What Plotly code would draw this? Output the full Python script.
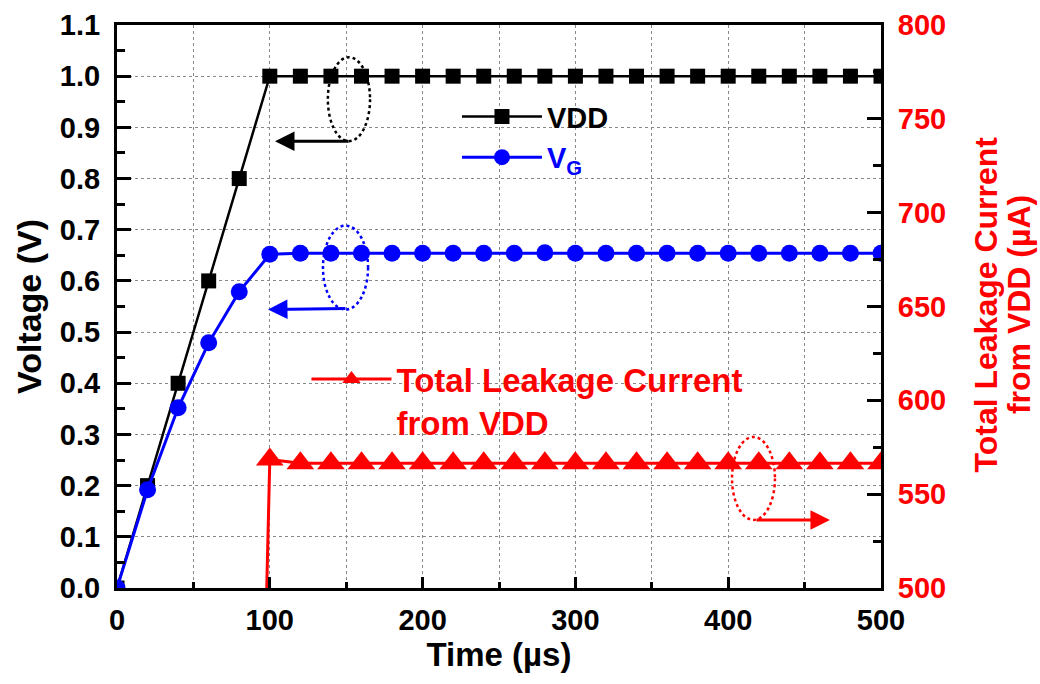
import plotly.graph_objects as go

# ---- data ----
time_us = [0, 20, 40, 60, 80, 100, 120, 140, 160, 180, 200, 220, 240, 260, 280,
           300, 320, 340, 360, 380, 400, 420, 440, 460, 480, 500]
vdd = [0.0, 0.2, 0.4, 0.6, 0.8, 1.0, 1.0, 1.0, 1.0, 1.0, 1.0, 1.0, 1.0, 1.0, 1.0,
       1.0, 1.0, 1.0, 1.0, 1.0, 1.0, 1.0, 1.0, 1.0, 1.0, 1.0]
vg = [0.0, 0.192, 0.352, 0.479, 0.579, 0.652, 0.654, 0.654, 0.654, 0.654, 0.654,
      0.654, 0.654, 0.654, 0.655, 0.654, 0.654, 0.654, 0.654, 0.654, 0.654, 0.654,
      0.654, 0.654, 0.654, 0.654]
time_i = [98, 100, 120, 140, 160, 180, 200, 220, 240, 260, 280, 300, 320, 340, 360,
          380, 400, 420, 440, 460, 480, 500]
leak_ua = [500, 568.5, 566.5, 566.5, 566.5, 566.5, 566.5, 566.5, 566.5, 566.5, 566.5,
           566.5, 566.5, 566.5, 566.5, 566.5, 566.5, 566.5, 566.5, 566.5, 566.5, 566.5]

FONT = "Liberation Sans, Arial, sans-serif"
RED = "#ff0000"
BLUE = "#0000ff"
TICK_SIZE = 29
TITLE_SIZE = 33
LEG_SIZE = 29

fig = go.Figure()

# switch-on ramp of the leakage current (line only)
fig.add_trace(go.Scatter(
    x=time_i[:2], y=leak_ua[:2], yaxis="y2", mode="lines", showlegend=False,
    line=dict(color=RED, width=3), hoverinfo="skip",
))
fig.add_trace(go.Scatter(
    x=time_i[1:], y=leak_ua[1:], yaxis="y2", mode="lines+markers",
    name="Total Leakage Current<br>from VDD", legend="legend3",
    line=dict(color=RED, width=3),
    marker=dict(symbol="triangle-up", color=RED, size=24, opacity=1,
                line=dict(width=0)),
))
fig.add_trace(go.Scatter(
    x=time_us, y=vdd, mode="lines+markers", name="VDD", legend="legend",
    line=dict(color="black", width=2.5),
    marker=dict(symbol="square", color="black", size=15),
))
fig.add_trace(go.Scatter(
    x=time_us, y=vg, mode="lines+markers", name="V<sub>G</sub>", legend="legend2",
    line=dict(color=BLUE, width=3),
    marker=dict(symbol="circle", color=BLUE, size=17),
))

# dotted ellipses
fig.add_shape(type="circle", xref="x", yref="y", x0=138, x1=165.6, y0=0.873, y1=1.037,
              line=dict(color="black", width=2.5, dash="dot"))
fig.add_shape(type="circle", xref="x", yref="y", x0=134.8, x1=164.3, y0=0.544, y1=0.708,
              line=dict(color=BLUE, width=2.5, dash="dot"))
fig.add_shape(type="circle", xref="x", yref="y2", x0=402.5, x1=430.6, y0=536.3, y1=580.5,
              line=dict(color=RED, width=2.5, dash="dot"))

# arrows
fig.add_annotation(x=103.4, y=0.873, ax=152.5, ay=0.873, xref="x", yref="y",
                   axref="x", ayref="y", text="", showarrow=True, arrowhead=2,
                   arrowsize=1.3, arrowwidth=3, arrowcolor="black")
fig.add_annotation(x=98.8, y=0.544, ax=150.5, ay=0.546, xref="x", yref="y",
                   axref="x", ayref="y", text="", showarrow=True, arrowhead=2,
                   arrowsize=1.3, arrowwidth=3, arrowcolor=BLUE)
fig.add_annotation(x=466.6, y=536.3, ax=417.5, ay=536.3, xref="x", yref="y2",
                   axref="x", ayref="y2", text="", showarrow=True, arrowhead=2,
                   arrowsize=1.3, arrowwidth=3, arrowcolor=RED)

# right axis title (two lines)
fig.add_annotation(text="Total Leakage Current", xref="paper", yref="paper",
                   x=1.137, y=0.503, textangle=-90, showarrow=False,
                   xanchor="center", yanchor="middle",
                   font=dict(family=FONT, size=32, color=RED, weight="bold"))
fig.add_annotation(text="from VDD (\u00b5A)", xref="paper", yref="paper",
                   x=1.181, y=0.503, textangle=-90, showarrow=False,
                   xanchor="center", yanchor="middle",
                   font=dict(family=FONT, size=32, color=RED, weight="bold"))

legend_common = dict(bgcolor="rgba(0,0,0,0)", borderwidth=0, xanchor="left",
                     itemclick=False, itemwidth=80)
fig.update_layout(
    width=1040, height=684,
    margin=dict(l=117, r=159, t=25, b=96),
    paper_bgcolor="white", plot_bgcolor="white",
    font=dict(family=FONT, size=22, color="black", weight="bold"),
    showlegend=True,
    legend=dict(x=0.445, y=0.837, yanchor="middle",
                font=dict(family=FONT, size=LEG_SIZE, color="black", weight="bold"),
                **legend_common),
    legend2=dict(x=0.445, y=0.765, yanchor="middle",
                 font=dict(family=FONT, size=LEG_SIZE, color=BLUE, weight="bold"),
                 **legend_common),
    legend3=dict(x=0.248, y=0.421, yanchor="top", valign="top",
                 font=dict(family=FONT, size=33, color=RED, weight="bold"),
                 **legend_common),
    xaxis=dict(
        range=[0, 500], dtick=100, tick0=0, automargin=False,
        showline=True, linecolor="black", linewidth=3, mirror=True,
        ticks="inside", ticklen=11, tickwidth=2.5, tickcolor="black",
        tickfont=dict(family=FONT, size=TICK_SIZE, color="black", weight="bold"),
        ticklabelstandoff=4,
        showgrid=True, gridcolor="#888888", gridwidth=1, griddash="dot",
        zeroline=False,
        minor=dict(dtick=50, ticks="inside", ticklen=6, tickwidth=2.5,
                   tickcolor="black", showgrid=True, gridcolor="#888888",
                   gridwidth=1, griddash="dot"),
        title=dict(text="Time (\u00b5s)", standoff=9,
                   font=dict(family=FONT, size=TITLE_SIZE, color="black", weight="bold")),
    ),
    yaxis=dict(
        range=[0, 1.1], dtick=0.1, tick0=0, tickformat=".1f", automargin=False,
        showline=True, linecolor="black", linewidth=3,
        ticks="inside", ticklen=14, tickwidth=2.5, tickcolor="black",
        tickfont=dict(family=FONT, size=TICK_SIZE, color="black", weight="bold"),
        ticklabelstandoff=8,
        showgrid=True, gridcolor="#888888", gridwidth=1, griddash="dot",
        zeroline=False,
        minor=dict(dtick=0.05, ticks="inside", ticklen=8, tickwidth=2.5,
                   tickcolor="black", showgrid=False),
        title=dict(text="Voltage (V)", standoff=8,
                   font=dict(family=FONT, size=TITLE_SIZE + 1, color="black", weight="bold")),
    ),
    yaxis2=dict(
        range=[500, 800], dtick=50, tick0=500, overlaying="y", side="right",
        automargin=False,
        showline=True, linecolor="black", linewidth=3,
        ticks="inside", ticklen=14, tickwidth=2.5, tickcolor="black",
        tickfont=dict(family=FONT, size=TICK_SIZE, color=RED, weight="bold"),
        ticklabelstandoff=8,
        showgrid=False, zeroline=False,
        minor=dict(dtick=25, ticks="inside", ticklen=8, tickwidth=2.5,
                   tickcolor="black", showgrid=False),
    ),
)

fig.write_html("out.html")
